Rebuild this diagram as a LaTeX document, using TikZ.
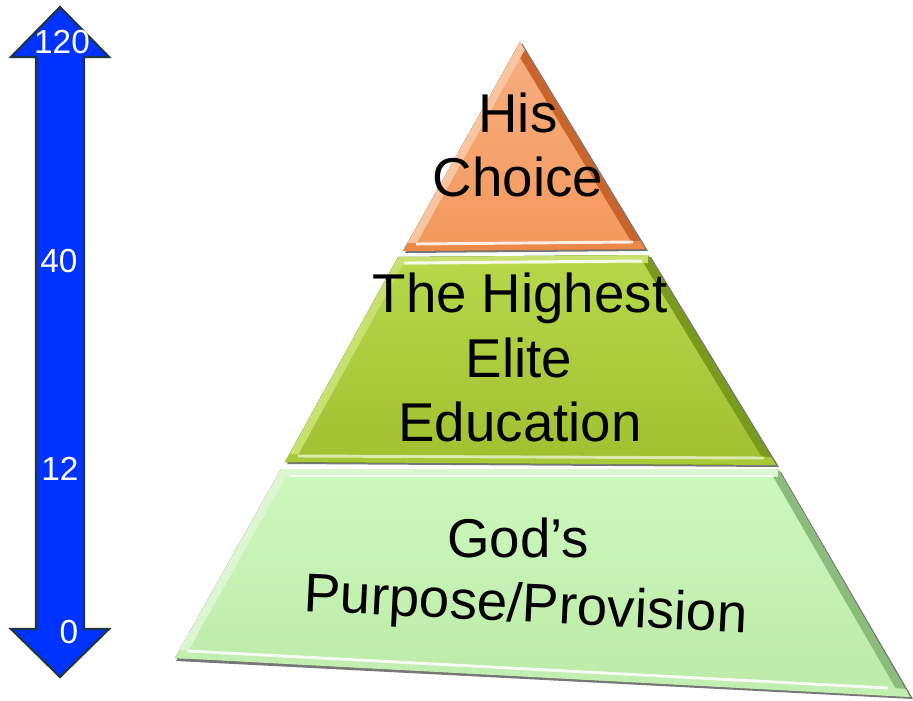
\documentclass[tikz,border=0pt]{standalone}
\usepackage{fontspec}
\setmainfont{Liberation Sans}
\definecolor{arrowblue}{HTML}{0033FF}
\definecolor{arrowline}{HTML}{1E3444}
\definecolor{orTop}{HTML}{F7AE80}
\definecolor{orBot}{HTML}{F3985C}
\definecolor{orLight}{HTML}{F9C4A0}
\definecolor{orDark}{HTML}{C9652C}
\definecolor{orBand}{HTML}{EC8848}
\definecolor{gnTop}{HTML}{B8D84C}
\definecolor{gnBot}{HTML}{A0C030}
\definecolor{gnLight}{HTML}{C8E070}
\definecolor{gnDark}{HTML}{7A9A1C}
\definecolor{gnBand}{HTML}{A8C838}
\definecolor{lgTop}{HTML}{CDF8BE}
\definecolor{lgBot}{HTML}{BCEAA8}
\definecolor{lgLight}{HTML}{DDF6D2}
\definecolor{lgDark}{HTML}{8CBC7C}
\definecolor{lgBand}{HTML}{C2EEB2}
\definecolor{shadowc}{HTML}{4A4A4A}
\tikzset{
  numlabel/.style={text=white,font=\fontsize{25}{30}\selectfont,inner sep=0pt,anchor=base},
  pyrtext/.style={text=black,font=\fontsize{41}{48}\selectfont,inner sep=0pt,anchor=base},
  bevel/.style={line width=12pt},
  highlight/.style={white,line width=2.2pt,opacity=0.85},
  shadowstyle/.style={fill=shadowc,opacity=0.75}
}
\begin{document}
\begin{tikzpicture}[x=0.75pt,y=-0.75pt]
\useasboundingbox (0,0) rectangle (913,700);

% ---------- double arrow ----------
\filldraw[fill=arrowblue,draw=arrowline,line width=1.6pt,line join=miter]
  (60,7) -- (109,57) -- (84,57) -- (84,629) -- (109,629) -- (60,677)
  -- (11,629) -- (36,629) -- (36,57) -- (11,57) -- cycle;
\node[numlabel] (n120) at (62,53) {120};
\node[numlabel] (n40)  at (59,272) {40};
\node[numlabel] (n12)  at (60,480) {12};
\node[numlabel] (n0)   at (69,643) {0};

% ---------- bottom layer ----------
\fill[shadowstyle] (283,472) -- (781,472) -- (913,699) -- (176,661) -- cycle;
\begin{scope}
  \clip (281,469) -- (778,469) -- (910,697) -- (175,658) -- cycle;
  \fill[top color=lgTop,bottom color=lgBot] (281,469) -- (778,469) -- (910,697) -- (175,658) -- cycle;
  \draw[bevel,lgDark] (778,469) -- (910,697);
  \draw[bevel,lgLight] (281,469) -- (175,658);
  \draw[bevel,lgLight] (281,469) -- (778,469);
  \draw[bevel,lgBand] (175,658) -- (910,697);
  \draw[highlight] (188,651) -- (888,688);
  \draw[highlight] (290,476) -- (772,476);
\end{scope}

% ---------- middle layer ----------
\fill[shadowstyle] (400,259) -- (651,257) -- (779,467) -- (287,464) -- cycle;
\begin{scope}
  \clip (398,257) -- (648,255) -- (776,465) -- (285,462) -- cycle;
  \fill[top color=gnTop,bottom color=gnBot] (398,257) -- (648,255) -- (776,465) -- (285,462) -- cycle;
  \draw[bevel,gnDark] (648,255) -- (776,465);
  \draw[bevel,gnLight] (398,257) -- (285,462);
  \draw[bevel,gnLight] (398,257) -- (648,255);
  \draw[bevel,gnBand] (285,462) -- (776,465);
  \draw[highlight,opacity=0.6] (298,456) -- (764,458);
  \draw[highlight] (404,263) -- (642,261);
\end{scope}

% ---------- top layer ----------
\fill[shadowstyle] (522,43) -- (648,251) -- (405,253) -- cycle;
\begin{scope}
  \clip (520,42) -- (645,249) -- (403,251) -- cycle;
  \fill[top color=orTop,bottom color=orBot] (520,42) -- (645,249) -- (403,251) -- cycle;
  \draw[bevel,orDark] (520,42) -- (645,249);
  \draw[bevel,orLight] (520,42) -- (403,251);
  \draw[bevel,orBand] (403,251) -- (645,249);
  \draw[highlight] (416,244) -- (633,242);
\end{scope}

% ---------- texts ----------
\node[pyrtext] (his)    at (518,132) {His};
\node[pyrtext] (choice) at (518,196) {Choice};
\node[pyrtext] (thehi)  at (520,312) {The Highest};
\node[pyrtext] (elite)  at (519,377) {Elite};
\node[pyrtext] (educ)   at (520,441) {Education};
\node[pyrtext] (gods)   at (518,557) {God’s};
\node[pyrtext,rotate=-2.8] (purp) at (525,622) {Purpose/Provision};
\end{tikzpicture}
\end{document}
